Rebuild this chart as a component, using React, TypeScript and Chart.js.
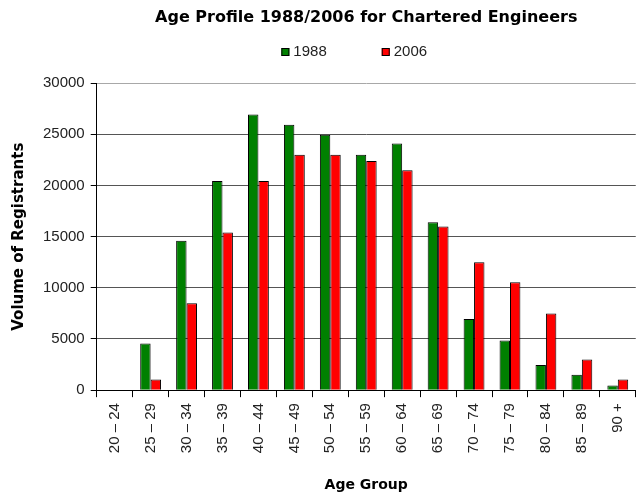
import React, { useEffect, useRef } from "react";
import { Chart, registerables } from "chart.js";

Chart.register(...registerables);

const categories = [
  "20 – 24", "25 – 29", "30 – 34", "35 – 39", "40 – 44", "45 – 49", "50 – 54",
  "55 – 59", "60 – 64", "65 – 69", "70 – 74", "75 – 79", "80 – 84", "85 – 89", "90 +",
];
const values1988 = [0, 4550, 14600, 20450, 26950, 25950, 24950, 23000, 24100, 16400, 6950, 4850, 2450, 1500, 450];
const values2006 = [0, 1050, 8500, 15400, 20450, 23000, 23000, 22400, 21500, 16000, 12500, 10550, 7500, 3000, 1050];
const seriesLabels = ["1988", "2006"];
const seriesColors = ["#008000", "#ff0000"];

const TITLE = "Age Profile 1988/2006 for Chartered Engineers";
const Y_TITLE = "Volume of Registrants";
const X_TITLE = "Age Group";

const SANS = "Arial, 'Liberation Sans', sans-serif";
const BOLD = "'DejaVu Sans', sans-serif";

const legendPlugin = {
  id: "customLegend",
  afterDraw(chart: any) {
    const ctx = chart.ctx;
    const ca = chart.chartArea;
    ctx.save();
    ctx.font = `15px ${SANS}`;
    const box = 8;
    const gap = 4;
    const spacing = 55;
    const items = chart.data.datasets.map((d: any) => ({
      label: d.label,
      color: d.backgroundColor,
      w: ctx.measureText(d.label).width,
    }));
    const total =
      items.reduce((s: number, it: any) => s + box + gap + it.w, 0) + spacing * (items.length - 1);
    let x = (ca.left + ca.right) / 2 - total / 2 - 12;
    const y = 52;
    ctx.textBaseline = "middle";
    ctx.textAlign = "left";
    for (const it of items) {
      ctx.fillStyle = it.color;
      ctx.fillRect(x, y - box / 2, box, box);
      ctx.strokeStyle = "#000";
      ctx.lineWidth = 1;
      ctx.strokeRect(x + 0.5, y - box / 2 + 0.5, box - 1, box - 1);
      ctx.fillStyle = "#222";
      ctx.fillText(it.label, x + box + gap, y);
      x += box + gap + it.w + spacing;
    }
    ctx.restore();
  },
};

export default function App() {
  const ref = useRef<HTMLCanvasElement | null>(null);

  useEffect(() => {
    document.body.style.margin = "0";
    const canvas = ref.current;
    if (!canvas) return;
    const tickFont = { family: SANS, size: 15 };
    const chart = new Chart(canvas, {
      type: "bar",
      data: {
        labels: categories,
        datasets: [
          {
            label: seriesLabels[0],
            data: values1988,
            backgroundColor: seriesColors[0],
            borderColor: "#000",
            borderWidth: 1,
            barPercentage: 1,
            categoryPercentage: 0.58,
          },
          {
            label: seriesLabels[1],
            data: values2006,
            backgroundColor: seriesColors[1],
            borderColor: "#000",
            borderWidth: 1,
            barPercentage: 1,
            categoryPercentage: 0.58,
          },
        ],
      },
      options: {
        responsive: false,
        animation: false,
        devicePixelRatio: 1,
        layout: { padding: { left: 0, right: 2, top: 0, bottom: 0 } },
        plugins: {
          legend: { display: false },
          tooltip: { enabled: false },
          title: {
            display: true,
            text: TITLE,
            fullSize: false,
            color: "#000",
            font: { family: BOLD, size: 16, weight: "bold" },
            padding: { top: 8, bottom: 56 },
          },
        },
        scales: {
          x: {
            grid: {
              display: true,
              drawOnChartArea: false,
              drawTicks: true,
              tickLength: 7,
              tickColor: "#000",
              offset: true,
            },
            border: { display: true, color: "#000", width: 1 },
            ticks: {
              autoSkip: false,
              minRotation: 90,
              maxRotation: 90,
              padding: 6,
              color: "#222",
              font: tickFont,
            },
            title: {
              display: true,
              text: X_TITLE,
              color: "#000",
              font: { family: BOLD, size: 14, weight: "bold" },
              padding: { top: 18, bottom: 4 },
            },
          },
          y: {
            min: 0,
            max: 30000,
            ticks: {
              stepSize: 5000,
              padding: 6,
              color: "#222",
              font: tickFont,
              callback: (v: any) => String(v),
            },
            grid: {
              color: (c: any) => (c.tick && c.tick.value === 30000 ? "#a8a8a8" : "#555"),
              lineWidth: 1,
              drawTicks: true,
              tickLength: 6,
              tickColor: "#000",
            },
            border: { display: true, color: "#000", width: 1 },
            title: {
              display: true,
              text: Y_TITLE,
              color: "#000",
              font: { family: BOLD, size: 15, weight: "bold" },
              padding: { top: 10, bottom: 9 },
            },
          },
        },
      },
      plugins: [legendPlugin],
    });
    return () => chart.destroy();
  }, []);

  return (
    <div style={{ width: 642, height: 498 }}>
      <canvas ref={ref} width={642} height={498} style={{ display: "block" }} />
    </div>
  );
}
